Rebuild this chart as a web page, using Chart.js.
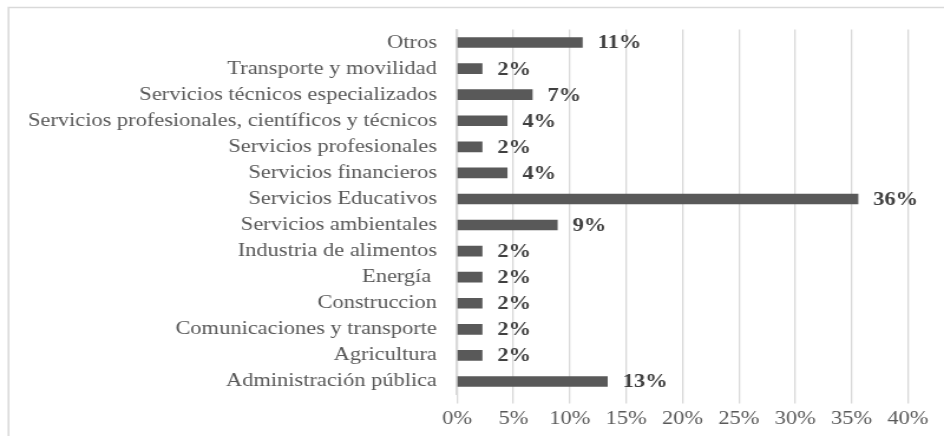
<!DOCTYPE html>
<html>
<head>
<meta charset="utf-8">
<script src="https://cdn.jsdelivr.net/npm/chart.js@4.4.1/dist/chart.umd.min.js"></script>
<style>
  html, body { margin: 0; padding: 0; background: #ffffff; overflow: hidden; }
  #wrap { width: 800px; height: 436px; position: relative; transform: scaleX(1.18); transform-origin: 0 0; }
</style>
</head>
<body>
<div id="wrap"><canvas id="c" width="800" height="436"></canvas></div>
<script>
// Categories (top to bottom as shown)
const categories = [
  "Otros",
  "Transporte y movilidad",
  "Servicios técnicos especializados",
  "Servicios profesionales, científicos y técnicos",
  "Servicios profesionales",
  "Servicios financieros",
  "Servicios Educativos",
  "Servicios ambientales",
  "Industria de alimentos",
  "Energía ",
  "Construccion",
  "Comunicaciones y transporte",
  "Agricultura",
  "Administración pública"
];
// Share of respondents (%)
const shares = [11.11, 2.22, 6.67, 4.44, 2.22, 4.44, 35.56, 8.89, 2.22, 2.22, 2.22, 2.22, 2.22, 13.33];
// Value axis ticks (%)
const xTicks = [0, 5, 10, 15, 20, 25, 30, 35, 40];

const SERIF = '"Liberation Serif", "Times New Roman", serif';

const framePlugin = {
  id: 'frame',
  beforeDraw(chart) {
    const ctx = chart.ctx;
    ctx.save();
    ctx.fillStyle = '#ffffff';
    ctx.fillRect(0, 0, chart.width, chart.height);
    ctx.strokeStyle = '#d9d9d9';
    ctx.lineWidth = 1.5;
    ctx.beginPath();
    ctx.moveTo(7.2, chart.height);
    ctx.lineTo(7.2, 7.5);
    ctx.lineTo(chart.width, 7.5);
    ctx.stroke();
    ctx.restore();
  }
};

const valueLabels = {
  id: 'valueLabels',
  afterDatasetsDraw(chart) {
    const ctx = chart.ctx;
    const meta = chart.getDatasetMeta(0);
    ctx.save();
    ctx.font = 'bold 19px ' + SERIF;
    ctx.fillStyle = '#404040';
    ctx.textAlign = 'left';
    ctx.textBaseline = 'middle';
    meta.data.forEach((bar, i) => {
      ctx.fillText(Math.round(shares[i]) + '%', bar.x + 13, bar.y + 1);
    });
    ctx.restore();
  }
};

new Chart(document.getElementById('c'), {
  type: 'bar',
  data: {
    labels: categories,
    datasets: [{
      data: shares,
      backgroundColor: '#595959',
      borderWidth: 0,
      barThickness: 10
    }]
  },
  options: {
    indexAxis: 'y',
    responsive: false,
    animation: false,
    events: [],
    layout: { padding: { top: 29.5, right: 30.5, bottom: 0, left: 0 } },
    plugins: { legend: { display: false }, tooltip: { enabled: false } },
    scales: {
      x: {
        min: 0, max: 40,
        afterBuildTicks(scale) { scale.ticks = xTicks.map(v => ({ value: v })); },
        afterFit(scale) { scale.height = 41.5; },
        grid: { color: '#d9d9d9', lineWidth: 1.3, drawTicks: true, tickLength: 9, tickColor: '#d9d9d9' },
        border: { display: false },
        ticks: {
          callback: v => v + '%',
          color: '#595959',
          font: { family: SERIF, size: 19 },
          padding: 4,
          maxRotation: 0
        }
      },
      y: {
        afterFit(scale) { scale.width = 387.3; },
        grid: { display: false, drawTicks: false },
        border: { display: true, color: '#d9d9d9', width: 1.7 },
        ticks: {
          color: '#595959',
          font: { family: SERIF, size: 19 },
          padding: 17,
          autoSkip: false
        }
      }
    }
  },
  plugins: [framePlugin, valueLabels]
});
</script>
</body>
</html>
